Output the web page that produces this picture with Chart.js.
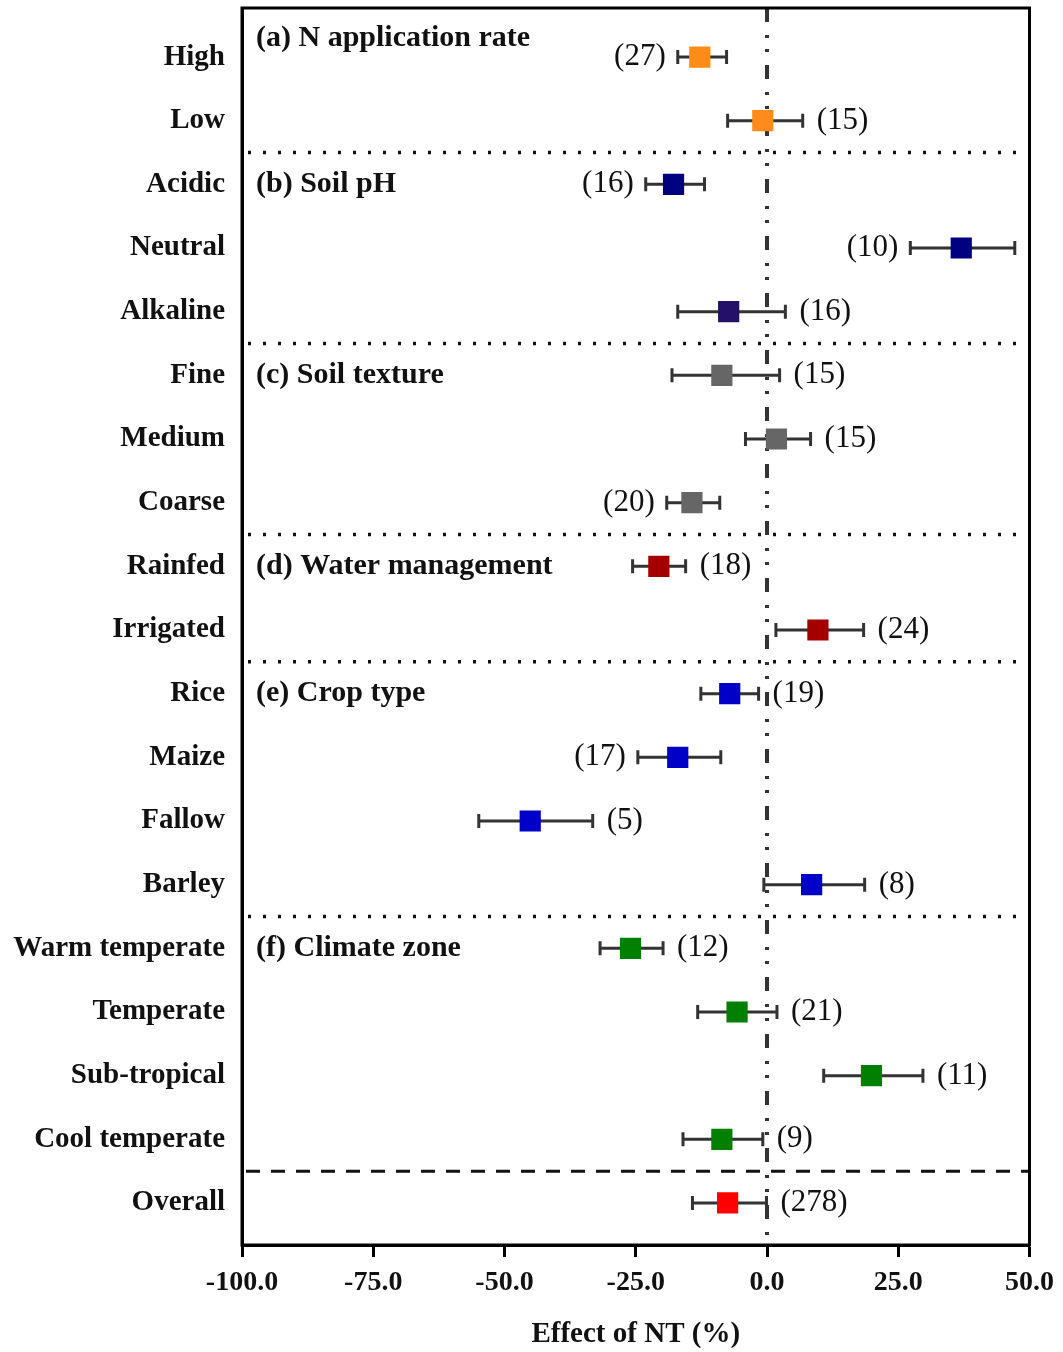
<!DOCTYPE html>
<html>
<head>
<meta charset="utf-8">
<script src="https://cdn.jsdelivr.net/npm/chart.js@4/dist/chart.umd.min.js"></script>
<style>
  body { margin: 0; background: #fff; }
  #wrap { width: 1063px; height: 1352px; position: relative; }
</style>
</head>
<body>
<div id="wrap"><canvas id="forest"></canvas></div>
<script>
// categories, top to bottom
const categories = ['High', 'Low', 'Acidic', 'Neutral', 'Alkaline', 'Fine', 'Medium', 'Coarse',
  'Rainfed', 'Irrigated', 'Rice', 'Maize', 'Fallow', 'Barley',
  'Warm temperate', 'Temperate', 'Sub-tropical', 'Cool temperate', 'Overall']

// effect of NT (%) with 95% CI
const effect = [-12.8, -0.8, -17.8, 37.0, -7.3, -8.6, 1.8, -14.3, -20.6, 9.7, -7.1, -17.0, -45.1, 8.5, -26.0, -5.7, 19.9, -8.6, -7.5]
const ciLow  = [-17.0, -7.5, -23.1, 27.3, -17.0, -18.1, -4.1, -19.1, -25.6, 1.7, -12.6, -24.6, -54.9, -0.6, -31.8, -13.2, 10.8, -16.0, -14.2]
const ciHigh = [-7.7, 6.8, -11.9, 47.2, 3.5, 2.4, 8.3, -9.0, -15.5, 18.4, -1.6, -8.8, -33.2, 18.6, -19.8, 1.9, 29.7, -0.8, -0.1]
const counts = [27, 15, 16, 10, 16, 15, 15, 20, 18, 24, 19, 17, 5, 8, 12, 21, 11, 9, 278]

// groups
const groupNames = ['(a) N application rate', '(b) Soil pH', '(c) Soil texture', '(d) Water management', '(e) Crop type', '(f) Climate zone']
const groupStart = [0, 2, 5, 8, 10, 14]

const xTicks = [-100, -75, -50, -25, 0, 25, 50]

// styling
const pointColors = ['#ff8c1a', '#ff8c1a', '#000080', '#000080', '#241066', '#666666', '#666666', '#666666',
  '#a50000', '#a50000', '#0000c8', '#0000c8', '#0000c8', '#0000c8',
  '#008000', '#008000', '#008000', '#008000', '#ff0000']
const leftLabel = ['High', 'Acidic', 'Neutral', 'Coarse', 'Maize']

const SERIF = '"Liberation Serif", "Times New Roman", serif'

const forestPlugin = {
  id: 'forest',
  beforeDatasetsDraw(chart) {
    const ctx = chart.ctx
    const area = chart.chartArea
    const xs = chart.scales.x
    const ys = chart.scales.y
    ctx.save()

    // group separators
    const seps = groupStart.slice(1).map(s => s - 0.5)
    ctx.strokeStyle = '#111'
    ctx.lineWidth = 3.5
    ctx.lineCap = 'butt'
    ctx.setLineDash([3, 12])
    seps.forEach(v => {
      const y = ys.getPixelForValue(v)
      ctx.beginPath()
      ctx.moveTo(area.left + 6, y)
      ctx.lineTo(area.right - 2, y)
      ctx.stroke()
    })
    // overall separator
    ctx.setLineDash([14, 11])
    ctx.lineWidth = 3
    const yo = ys.getPixelForValue(categories.length - 1.5)
    ctx.beginPath()
    ctx.moveTo(area.left + 4, yo)
    ctx.lineTo(area.right, yo)
    ctx.stroke()

    // zero line
    const x0 = xs.getPixelForValue(0)
    ctx.strokeStyle = '#333'
    ctx.lineWidth = 4
    ctx.setLineDash([14, 13, 3, 11, 3, 13])
    ctx.beginPath()
    ctx.moveTo(x0, area.top)
    ctx.lineTo(x0, area.bottom)
    ctx.stroke()
    ctx.setLineDash([])

    // error bars
    ctx.strokeStyle = '#333'
    ctx.lineWidth = 3
    categories.forEach((c, i) => {
      const y = ys.getPixelForValue(i)
      const a = xs.getPixelForValue(ciLow[i])
      const b = xs.getPixelForValue(ciHigh[i])
      ctx.beginPath()
      ctx.moveTo(a, y); ctx.lineTo(b, y)
      ctx.moveTo(a, y - 7); ctx.lineTo(a, y + 7)
      ctx.moveTo(b, y - 7); ctx.lineTo(b, y + 7)
      ctx.stroke()
    })
    ctx.restore()
  },
  afterDatasetsDraw(chart) {
    const ctx = chart.ctx
    const area = chart.chartArea
    const xs = chart.scales.x
    const ys = chart.scales.y
    ctx.save()
    ctx.fillStyle = '#111'
    ctx.textBaseline = 'middle'

    // sample sizes
    ctx.font = '31px ' + SERIF
    categories.forEach((c, i) => {
      const y = ys.getPixelForValue(i)
      if (leftLabel.includes(c)) {
        ctx.textAlign = 'right'
        ctx.fillText('(' + counts[i] + ')', xs.getPixelForValue(ciLow[i]) - 12, y)
      } else {
        ctx.textAlign = 'left'
        ctx.fillText('(' + counts[i] + ')', xs.getPixelForValue(ciHigh[i]) + 14, y)
      }
    })

    // group titles
    ctx.font = 'bold 30px ' + SERIF
    ctx.textAlign = 'left'
    groupNames.forEach((g, k) => {
      const v = k === 0 ? groupStart[k] - 0.3 : groupStart[k]
      ctx.fillText(g, area.left + 14, ys.getPixelForValue(v))
    })

    // frame
    ctx.strokeStyle = '#000'
    ctx.lineWidth = 3
    ctx.strokeRect(area.left, area.top, area.right - area.left, area.bottom - area.top)
    ctx.restore()
  }
}

new Chart(document.getElementById('forest'), {
  type: 'scatter',
  data: {
    datasets: [{
      data: categories.map((c, i) => ({ x: effect[i], y: i })),
      backgroundColor: pointColors,
      borderWidth: 0,
      pointStyle: 'rect',
      pointRadius: 15,
      pointHoverRadius: 15
    }]
  },
  options: {
    responsive: true,
    maintainAspectRatio: false,
    animation: false,
    layout: { autoPadding: false, padding: { top: 8, right: 33, left: 0, bottom: 0 } },
    plugins: { legend: { display: false }, tooltip: { enabled: false } },
    scales: {
      x: {
        type: 'linear',
        min: -100,
        max: 50,
        afterBuildTicks: scale => { scale.ticks = xTicks.map(v => ({ value: v })) },
        afterFit: scale => { scale.height = 107 },
        grid: { drawOnChartArea: false, drawTicks: true, tickLength: 12, tickWidth: 3, tickColor: '#000' },
        border: { display: true, color: '#000', width: 3 },
        ticks: {
          callback: v => v.toFixed(1),
          color: '#111',
          padding: 9,
          maxRotation: 0,
          font: { family: SERIF, size: 28, weight: 'bold' }
        },
        title: {
          display: true,
          text: 'Effect of NT (%)',
          color: '#111',
          padding: { top: 0, bottom: 0 },
          font: { family: SERIF, size: 29, weight: 'bold' }
        }
      },
      y: {
        type: 'linear',
        reverse: true,
        min: -0.77,
        max: categories.length - 1 + 0.66,
        afterBuildTicks: scale => { scale.ticks = categories.map((c, i) => ({ value: i })) },
        afterFit: scale => {
          scale.width = 242
          scale.paddingTop = 0
          scale.paddingBottom = 0
        },
        grid: { display: false, drawTicks: false },
        border: { display: true, color: '#000', width: 3 },
        ticks: {
          callback: v => categories[v],
          color: '#111',
          padding: 17,
          autoSkip: false,
          font: { family: SERIF, size: 29, weight: 'bold' }
        }
      }
    }
  },
  plugins: [forestPlugin]
})
</script>
</body>
</html>
